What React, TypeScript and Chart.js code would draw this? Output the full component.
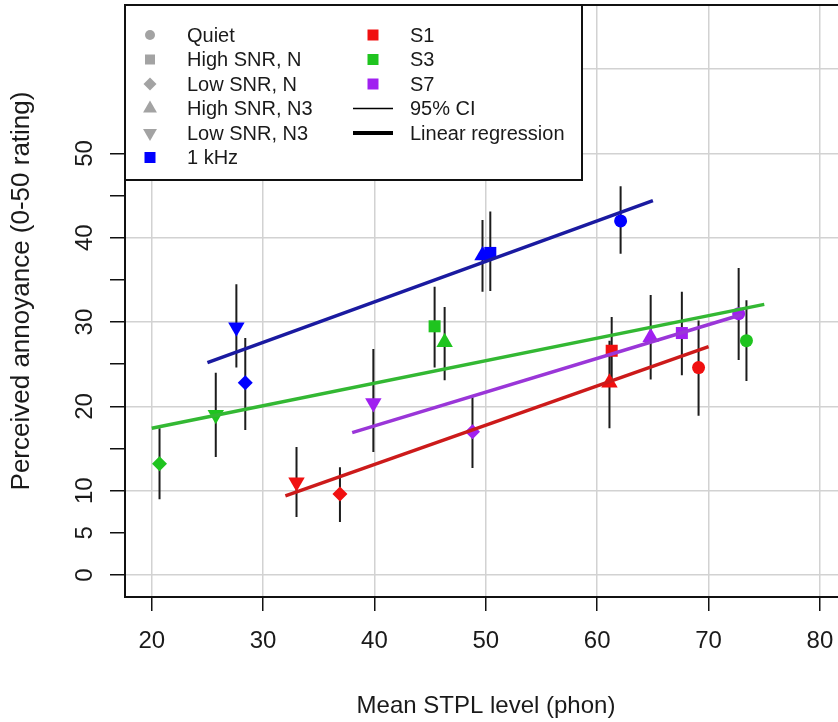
import React, { useEffect, useRef } from 'react';
import { Chart, registerables } from 'chart.js';

Chart.register(...registerables);

// ---------- data ----------
const conditions = ['Quiet', 'High SNR, N', 'Low SNR, N', 'High SNR, N3', 'Low SNR, N3'];
const conditionStyles = ['circle', 'rect', 'rectRot', 'triangle', 'triangle'];
const conditionRotation = [0, 0, 0, 0, 180];
const conditionRadius = [6.5, 8.5, 7.5, 9.5, 9.5];

const stimuli = ['1 kHz', 'S1', 'S3', 'S7'];
const markerColors = ['#0000ff', '#f01010', '#1fc41f', '#a020f0'];
const lineColors = ['#1a1aa0', '#cc1a1a', '#33b833', '#9a36d8'];

// values in condition order: Quiet, High SNR N, Low SNR N, High SNR N3, Low SNR N3
const khzX = [62.1, 50.4, 28.4, 49.7, 27.6];
const khzY = [42.0, 38.2, 22.8, 37.9, 29.4];
const khzLo = [38.1, 33.7, 17.2, 33.6, 24.6];
const khzHi = [46.1, 43.1, 28.1, 42.1, 34.5];

const s1X = [69.1, 61.3, 36.9, 61.1, 33.0];
const s1Y = [24.6, 26.6, 9.6, 22.8, 11.0];
const s1Lo = [18.9, 22.5, 6.3, 17.4, 6.9];
const s1Hi = [30.2, 30.6, 12.8, 27.8, 15.2];

const s3X = [73.4, 45.4, 20.7, 46.3, 25.75];
const s3Y = [27.8, 29.5, 13.2, 27.6, 19.0];
const s3Lo = [23.0, 24.6, 9.0, 23.1, 14.0];
const s3Hi = [32.6, 34.2, 17.4, 31.8, 24.0];

const s7X = [72.7, 67.6, 48.8, 64.8, 39.9];
const s7Y = [31.0, 28.7, 17.0, 28.2, 20.4];
const s7Lo = [25.5, 23.7, 12.7, 23.2, 14.6];
const s7Hi = [36.4, 33.6, 21.1, 33.2, 26.8];

// regression line end points (start, end)
const khzRegX = [25, 65];
const khzRegY = [25.2, 44.4];
const s1RegX = [32, 70];
const s1RegY = [9.4, 27.1];
const s3RegX = [20, 75];
const s3RegY = [17.4, 32.1];
const s7RegX = [38, 73];
const s7RegY = [16.9, 30.9];

const xTicks = [20, 30, 40, 50, 60, 70, 80];
const yTickMarks = [0, 5, 10, 15, 20, 25, 30, 35, 40, 45, 50, 60];
const yTickLabels = [0, 5, 10, 20, 30, 40, 50];
const yGrid = [0, 10, 20, 30, 40, 50, 60];

const xTitle = 'Mean STPL level (phon)';
const yTitle = 'Perceived annoyance (0-50 rating)';
const legendLeft = ['Quiet', 'High SNR, N', 'Low SNR, N', 'High SNR, N3', 'Low SNR, N3', '1 kHz'];
const legendRight = ['S1', 'S3', 'S7', '95% CI', 'Linear regression'];

const seriesX = [khzX, s1X, s3X, s7X];
const seriesY = [khzY, s1Y, s3Y, s7Y];
const seriesLo = [khzLo, s1Lo, s3Lo, s7Lo];
const seriesHi = [khzHi, s1Hi, s3Hi, s7Hi];
const regX = [khzRegX, s1RegX, s3RegX, s7RegX];
const regY = [khzRegY, s1RegY, s3RegY, s7RegY];

const FONT = '"Liberation Sans", Arial, sans-serif';
const TEXT = '#1a1a1a';
const GRID = '#d2d2d2';
const GRAY = '#a3a3a3';

function shape(ctx: CanvasRenderingContext2D, kind: string, x: number, y: number, r: number, color: string) {
  ctx.save();
  ctx.fillStyle = color;
  ctx.beginPath();
  if (kind === 'circle') {
    ctx.arc(x, y, r, 0, Math.PI * 2);
  } else if (kind === 'square') {
    ctx.rect(x - r, y - r, 2 * r, 2 * r);
  } else if (kind === 'diamond') {
    ctx.moveTo(x, y - r); ctx.lineTo(x + r, y); ctx.lineTo(x, y + r); ctx.lineTo(x - r, y);
  } else if (kind === 'up') {
    ctx.moveTo(x, y - r); ctx.lineTo(x + r * 0.866, y + r * 0.5); ctx.lineTo(x - r * 0.866, y + r * 0.5);
  } else if (kind === 'down') {
    ctx.moveTo(x, y + r); ctx.lineTo(x + r * 0.866, y - r * 0.5); ctx.lineTo(x - r * 0.866, y - r * 0.5);
  }
  ctx.closePath();
  ctx.fill();
  ctx.restore();
}

const decorPlugin = {
  id: 'decor',
  afterDraw(chart: any) {
    const { ctx, chartArea } = chart;
    const { left, top, right, bottom } = chartArea;
    ctx.save();
    // plot box
    ctx.strokeStyle = '#111';
    ctx.lineWidth = 2;
    ctx.strokeRect(left, top, right - left + 40, bottom - top);

    // axis titles
    ctx.fillStyle = TEXT;
    ctx.font = `24px ${FONT}`;
    ctx.textAlign = 'center';
    ctx.textBaseline = 'middle';
    ctx.fillText(xTitle, 486, 706);
    ctx.save();
    ctx.translate(22, 291);
    ctx.rotate(-Math.PI / 2);
    ctx.font = `26px ${FONT}`;
    ctx.fillText(yTitle, 0, 0);
    ctx.restore();

    // legend
    const lx = left, ly = top, lw = 457, lh = 175;
    ctx.fillStyle = '#ffffff';
    ctx.fillRect(lx, ly, lw, lh);
    ctx.strokeStyle = '#111';
    ctx.lineWidth = 2;
    ctx.strokeRect(lx, ly, lw, lh);

    const rowY = (i: number) => ly + 30 + i * 24.5;
    const leftKinds = ['circle', 'square', 'diamond', 'up', 'down', 'square'];
    const leftSizes = [5, 5, 6.5, 8, 8, 5.5];
    ctx.font = `20px ${FONT}`;
    ctx.textAlign = 'left';
    legendLeft.forEach((label, i) => {
      const c = i === 5 ? markerColors[0] : GRAY;
      shape(ctx, leftKinds[i], lx + 25, rowY(i), leftSizes[i], c);
      ctx.fillStyle = TEXT;
      ctx.fillText(label, lx + 62, rowY(i) + 1);
    });
    legendRight.forEach((label, i) => {
      const y = rowY(i);
      if (i < 3) {
        shape(ctx, 'square', lx + 248, y, 5.5, markerColors[i + 1]);
      } else {
        ctx.strokeStyle = '#000';
        ctx.lineWidth = i === 3 ? 1.3 : 4;
        ctx.beginPath();
        ctx.moveTo(lx + 228, y);
        ctx.lineTo(lx + 268, y);
        ctx.stroke();
      }
      ctx.fillStyle = TEXT;
      ctx.fillText(label, lx + 285, y + 1);
    });
    ctx.restore();
  },
};

export default function App() {
  const ref = useRef<HTMLCanvasElement | null>(null);

  useEffect(() => {
    if (!ref.current) return;
    const datasets: any[] = [];

    // regression lines (top)
    stimuli.forEach((s, k) => {
      datasets.push({
        label: `${s} regression`,
        data: regX[k].map((x, i) => ({ x, y: regY[k][i] })),
        showLine: true,
        borderColor: lineColors[k],
        borderWidth: 3.5,
        pointRadius: 0,
        order: 0,
      });
    });

    // markers
    stimuli.forEach((s, k) => {
      datasets.push({
        label: s,
        data: seriesX[k].map((x, i) => ({ x, y: seriesY[k][i] })),
        showLine: false,
        pointStyle: conditionStyles,
        pointRotation: conditionRotation,
        pointRadius: conditionRadius,
        pointBackgroundColor: markerColors[k],
        pointBorderWidth: 0,
        order: 1,
      });
    });

    // confidence intervals (bottom)
    stimuli.forEach((s, k) => {
      const pts: any[] = [];
      seriesX[k].forEach((x, i) => {
        pts.push({ x, y: seriesLo[k][i] });
        pts.push({ x, y: seriesHi[k][i] });
        pts.push({ x, y: null });
      });
      datasets.push({
        label: `${s} CI`,
        data: pts,
        showLine: true,
        spanGaps: false,
        borderColor: '#1c1c1c',
        borderWidth: 2,
        pointRadius: 0,
        order: 2,
      });
    });

    const chart = new Chart(ref.current, {
      type: 'scatter',
      data: { datasets },
      options: {
        responsive: false,
        animation: false,
        events: [],
        layout: { autoPadding: false, padding: { top: 5, left: 0, right: 0, bottom: 0 } },
        plugins: { legend: { display: false }, tooltip: { enabled: false } },
        scales: {
          x: {
            type: 'linear',
            min: 17.6,
            max: 81.62,
            afterBuildTicks: (scale: any) => {
              scale.ticks = xTicks.map((v) => ({ value: v }));
            },
            afterFit: (scale: any) => {
              scale.height = 125;
              scale.paddingLeft = 0;
              scale.paddingRight = 0;
            },
            border: { display: false },
            grid: {
              color: GRID,
              lineWidth: 1.5,
              drawTicks: true,
              tickLength: 14,
              tickColor: '#111',
              tickWidth: 1.5,
            },
            ticks: {
              autoSkip: false,
              maxRotation: 0,
              minRotation: 0,
              padding: 16,
              color: TEXT,
              font: { family: FONT, size: 24 },
              callback: (v: any) => String(v),
            },
          },
          y: {
            type: 'linear',
            min: -2.6,
            max: 67.6,
            afterBuildTicks: (scale: any) => {
              scale.ticks = yTickMarks.map((v) => ({ value: v }));
            },
            afterFit: (scale: any) => {
              scale.width = 125;
              scale.paddingTop = 0;
              scale.paddingBottom = 0;
            },
            border: { display: false },
            grid: {
              color: (c: any) => (c.tick && yGrid.includes(c.tick.value) ? GRID : 'rgba(0,0,0,0)'),
              lineWidth: 1.5,
              drawTicks: true,
              tickLength: 15,
              tickColor: (c: any) => (c.tick && c.tick.value <= 50 ? '#111' : 'rgba(0,0,0,0)'),
              tickWidth: 1.5,
            },
            ticks: {
              autoSkip: false,
              minRotation: 90,
              maxRotation: 90,
              crossAlign: 'center',
              padding: 11,
              color: TEXT,
              font: { family: FONT, size: 24 },
              callback: (v: any) => (yTickLabels.includes(Number(v)) ? String(v) : ''),
            },
          },
        },
      },
      plugins: [decorPlugin],
    } as any);

    return () => chart.destroy();
  }, []);

  return (
    <div style={{ position: 'absolute', left: 0, top: 0, width: 838, height: 722, background: '#fff' }}>
      <canvas ref={ref} width={838} height={722} style={{ display: 'block' }} />
    </div>
  );
}
